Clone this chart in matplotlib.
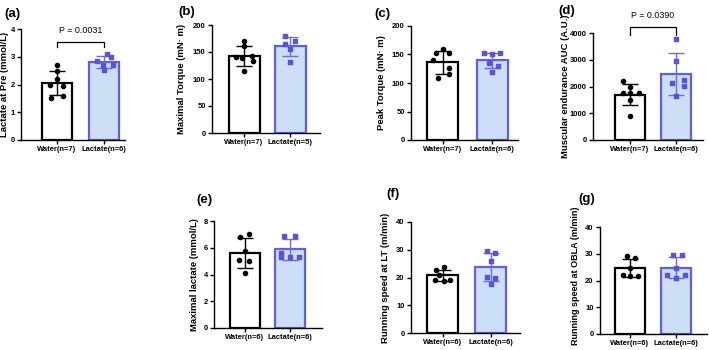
import numpy as np
import matplotlib
matplotlib.use("Agg")
import matplotlib.pyplot as plt

plt.rcParams['font.family'] = ['Liberation Sans', 'DejaVu Sans']

# data
panels = ["(a)", "(b)", "(c)", "(d)", "(e)", "(f)", "(g)"]
ylabels = ["Lactate at Pre (mmol/L)", "Maximal Torque (mN\u00b7 m)", "Peak Torque (mN\u00b7 m)",
           "Muscular endurance AUC (A.U.)", "Maximal lactate (mmol/L)",
           "Running speed at LT (m/min)", "Running speed at OBLA (m/min)"]
xlabels = [["Water(n=7)", "Lactate(n=6)"], ["Water(n=7)", "Lactate(n=5)"],
           ["Water(n=7)", "Lactate(n=6)"], ["Water(n=7)", "Lactate(n=6)"],
           ["Water(n=6)", "Lactate(n=6)"], ["Water(n=6)", "Lactate(n=6)"],
           ["Water(n=6)", "Lactate(n=6)"]]
yticks = [[0, 1, 2, 3, 4], [0, 50, 100, 150, 200], [0, 50, 100, 150, 200],
          [0, 1000, 2000, 3000, 4000], [0, 2, 4, 6, 8], [0, 10, 20, 30, 40],
          [0, 10, 20, 30, 40]]

water = [
    [2.70, 2.48, 2.20, 2.00, 1.95, 1.58, 1.50],
    [170, 161, 140, 138, 142, 133, 114],
    [160, 153, 152, 141, 126, 116, 108],
    [2187, 2000, 1775, 1775, 1750, 1500, 912],
    [7.0, 6.8, 5.74, 5.07, 5.02, 4.08],
    [23.8, 22.7, 21.0, 19.2, 19.0, 18.8],
    [29.0, 28.4, 24.5, 22.0, 21.8, 21.6],
]
lactate = [
    [3.10, 2.99, 2.83, 2.71, 2.69, 2.53],
    [179, 170, 165, 155, 132],
    [152, 152, 150, 135, 130, 120],
    [3775, 2962, 2250, 2125, 2037, 1650],
    [6.88, 6.88, 5.64, 5.32, 5.32, 5.32],
    [29.5, 28.8, 25.9, 20.3, 20.0, 17.8],
    [29.7, 29.5, 24.5, 22.0, 22.0, 21.0],
]
# horizontal jitter of the points, as placed in the figure
water_dx = [
    [0, 0, 0, -0.25, 0.2, 0.2, -0.2],
    [0, 0, -0.25, -0.05, 0.25, 0.3, 0],
    [0, -0.2, 0.2, -0.3, 0.2, 0.2, -0.15],
    [-0.25, 0, -0.25, 0.3, 0, 0, 0],
    [0.12, -0.15, 0, -0.2, 0.12, 0],
    [0.05, -0.2, -0.1, 0.25, -0.25, 0.05],
    [-0.1, 0.15, 0, -0.25, 0.0, 0.25],
]
lactate_dx = [
    [0.1, 0.22, -0.22, 0.3, -0.05, 0],
    [-0.15, 0.15, -0.15, 0, 0],
    [-0.25, 0.25, 0, -0.1, 0.2, 0],
    [0, 0, 0.25, -0.12, 0.25, 0],
    [-0.2, 0.15, -0.3, -0.3, 0, 0.3],
    [-0.1, 0.15, 0, -0.1, 0.15, 0],
    [-0.1, 0.2, 0, -0.3, 0.3, 0],
]
pvals = {0: "P = 0.0031", 3: "P = 0.0390"}

# layout in pixels: axis left, axis right, y top, y bottom, water centre, lactate centre, bar width
px = [
    (21, 125, 29, 140, 57, 104, 30),
    (212, 320, 25, 133, 244, 290, 31),
    (411, 518, 26, 140, 442.5, 492, 31),
    (593, 703, 33, 140, 630, 676, 30),
    (214, 322, 221, 328, 245, 290, 30),
    (411, 520, 222, 333, 442.5, 490.5, 31),
    (600, 707, 227, 334, 630, 676, 30),
]
label_pos = [(4, 14), (178, 12), (374, 14), (558, 11), (196, 200), (386, 194), (578, 199)]
ylabel_x = [5, 182, 382, 565, 195, 385, 575]
ylabel_y = [0.5, 0.5, 0.5, 0.5, 0.5, 0.5, 0.54]
ylabel_fs = [6.8, 6.8, 6.8, 6.8, 6.8, 6.8, 6.5]

W, H = 709, 350
fig = plt.figure(figsize=(W / 100, H / 100), dpi=100)

blue_edge = "#5E5EE6"
blue_fill = "#CDDFF7"
blue_pt = "#5A50E2"

for i in range(7):
    l, r, t, b, wc, lc, bw = px[i]
    ax = fig.add_axes([l / W, 1 - b / H, (r - l) / W, (b - t) / H])
    u = lc - wc
    ax.set_xlim((l - wc) / u, (r - wc) / u)
    ax.set_ylim(yticks[i][0], yticks[i][-1])
    w = bw / u

    for k, (vals, dx) in enumerate([(water[i], water_dx[i]), (lactate[i], lactate_dx[i])]):
        m = np.mean(vals)
        sd = np.std(vals, ddof=1)
        fc = "white" if k == 0 else blue_fill
        ec = "black" if k == 0 else blue_edge
        ax.bar(k, m, width=w, color=fc, edgecolor=ec, linewidth=1.6, zorder=2)
        ax.errorbar(k, m, yerr=sd, color=ec if k == 0 else "#6C6CDD", capsize=5.5,
                    elinewidth=1.0, capthick=1.0, zorder=3)
        xs = k + np.array(dx) * w
        if k == 0:
            ax.scatter(xs, vals, s=9, color="black", marker="o", zorder=4, clip_on=False)
        else:
            ax.scatter(xs, vals, s=9, color=blue_pt, marker="s", zorder=4, clip_on=False)

    ax.spines["top"].set_visible(False)
    ax.spines["right"].set_visible(False)
    for sp in ["left", "bottom"]:
        ax.spines[sp].set_linewidth(1.0)
    ax.set_yticks(yticks[i])
    ax.set_xticks([0, 1])
    ax.set_xticklabels(xlabels[i])
    ax.tick_params(axis="both", length=3, width=1.0, pad=1.5)
    ax.tick_params(axis="x", labelsize=5.4)
    ax.tick_params(axis="y", labelsize=5.5)
    for lab in ax.get_xticklabels() + ax.get_yticklabels():
        lab.set_fontweight("bold")
    ax.set_ylabel(ylabels[i], fontsize=ylabel_fs[i], fontweight="bold")
    ax.yaxis.set_label_coords((ylabel_x[i] - l) / (r - l), ylabel_y[i])
    ax.yaxis.label.set_va("center")

    if i in pvals:
        top = yticks[i][-1]
        y0 = top * (0.84 if i == 0 else 0.98)
        y1 = top * (0.885 if i == 0 else 1.06)
        ax.plot([0, 0, 1, 1], [y0, y1, y1, y0], color="black", lw=0.9, clip_on=False)
        ax.text(0.5, y1 + top * 0.06, pvals[i], ha="center", va="bottom", fontsize=6.4,
                clip_on=False)

    fig.text(label_pos[i][0] / W, 1 - label_pos[i][1] / H, panels[i], fontsize=9.5,
             fontweight="bold", va="center", ha="left")

fig.savefig("out.png", dpi=100)
